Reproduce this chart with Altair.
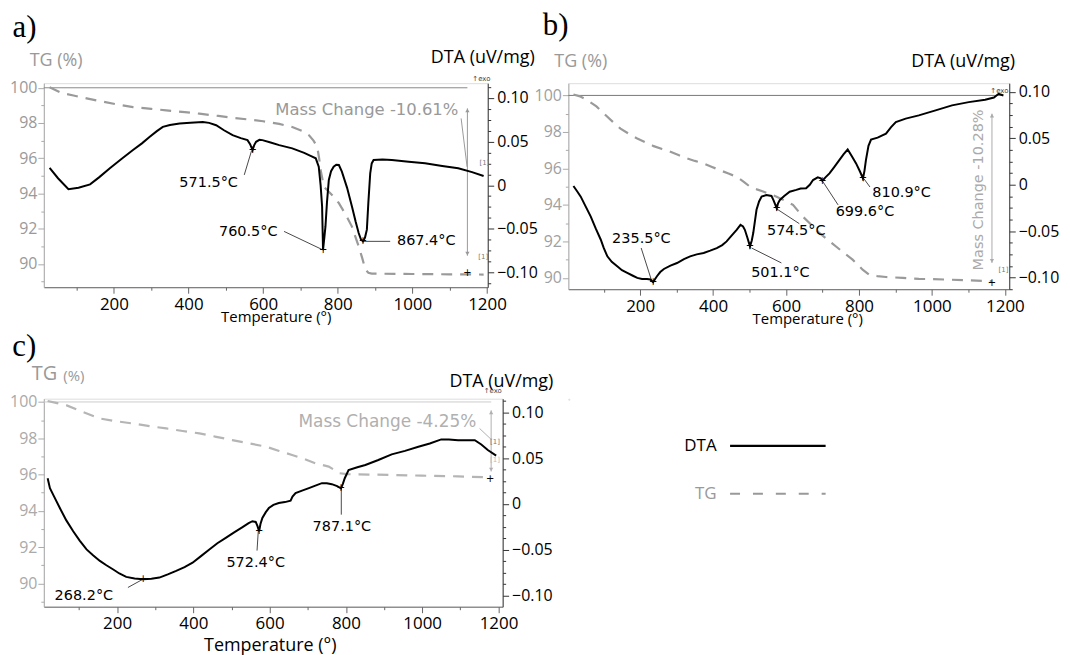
import altair as alt
import pandas as pd

# ---------------- Panel a ----------------
A_DTA_T = [27.5, 50, 78, 105, 136, 160, 189, 220, 251, 275, 296, 315, 331, 350, 376, 405, 438, 455, 474, 495, 518, 540, 558, 565, 571.5, 576, 581, 590, 598, 620, 643, 678, 710, 730, 741, 749, 754, 758, 760.5, 764, 767, 771, 776, 782, 789, 796, 803, 811, 825, 838, 848, 856, 862, 867.4, 873, 878, 882, 887, 891, 896, 920, 945, 990, 1034, 1080, 1123, 1160, 1191]
A_DTA_V = [0.020, 0.008, -0.0046, -0.003, 0.001, 0.009, 0.0194, 0.030, 0.0403, 0.048, 0.0555, 0.062, 0.0669, 0.069, 0.0708, 0.0715, 0.0726, 0.0715, 0.0688, 0.063, 0.0574, 0.054, 0.0517, 0.047, 0.0403, 0.046, 0.0498, 0.052, 0.0517, 0.049, 0.046, 0.0422, 0.037, 0.033, 0.0308, 0.0212, 0.0, -0.0244, -0.0738, -0.06, -0.0473, -0.02, 0.006, 0.016, 0.0212, 0.0235, 0.0232, 0.0155, -0.003, -0.0244, -0.042, -0.0548, -0.062, -0.0644, -0.06, -0.051, -0.02, 0.0137, 0.025, 0.0289, 0.0295, 0.0289, 0.027, 0.0251, 0.022, 0.0194, 0.015, 0.0106]
A_TG_T = [27.5, 60, 91.5, 130, 163, 210, 251, 300, 340, 390, 429, 480, 518, 560, 600, 643, 678, 705, 723, 735, 745, 750, 754, 763, 776, 790, 803, 820, 838, 856, 866, 874, 882, 891, 1000, 1100, 1191]
A_TG_V = [100.03, 99.7, 99.56, 99.38, 99.24, 99.05, 98.9, 98.8, 98.72, 98.62, 98.53, 98.4, 98.3, 98.2, 98.1, 97.95, 97.77, 97.55, 97.3, 97.0, 96.64, 96.0, 95.33, 94.38, 94.1, 93.8, 93.45, 92.85, 92.12, 91.0, 90.3, 89.68, 89.5, 89.45, 89.43, 89.41, 89.4]
A_PEAK_LABELS = ["571.5°C", "760.5°C", "867.4°C"]
A_PEAK_T = [453.8, 560, 1037.3]
A_PEAK_V = [0.0023, -0.0541, -0.0644]
A_LEAD_T1 = [549.3, 656, 866.7]
A_LEAD_V1 = [0.0118, -0.053, -0.0644]
A_LEAD_T2 = [568.8, 762.7, 940.5]
A_LEAD_V2 = [0.0395, -0.0747, -0.0644]
A_DIP_T = [571.5, 760.5, 867.4]
A_DIP_V = [0.0403, -0.0738, -0.0644]
A_MASS_TEXT = "Mass Change -10.61%"
A_MASS_T, A_MASS_V = 878, 98.72
A_ARROW_T, A_ARROW_V1, A_ARROW_V2 = 1147.5, 98.83, 90.47
A_MLEAD = [1130.7, 98.26, 1146.7, 95.51]
A_REF_T1, A_REF_T2 = 12, 1147.5

# ---------------- Panel b ----------------
B_DTA_T = [17, 27, 37, 50, 64.5, 78, 92, 100, 110, 122, 137, 150, 164.5, 180, 192, 205, 219, 228, 235.5, 240, 246, 255, 265, 283, 301, 320, 337, 355, 374, 392, 410, 425, 437, 450, 464.5, 475, 482, 487, 494, 501.1, 506, 510, 515, 519, 526, 533, 546, 560, 566, 574.5, 578, 583, 595, 610, 628, 640, 655, 665, 674, 687, 695, 699.6, 708, 719, 732, 746, 758, 769, 780, 792, 803, 810.9, 815, 819, 826, 833, 851, 874, 888, 901, 928, 964, 1010, 1055, 1101, 1146, 1170, 1183, 1196]
B_DTA_V = [-0.0013, -0.007, -0.0128, -0.023, -0.0343, -0.047, -0.0592, -0.068, -0.0771, -0.083, -0.0878, -0.092, -0.0949, -0.098, -0.1003, -0.1014, -0.1014, -0.102, -0.105, -0.102, -0.0985, -0.094, -0.0907, -0.087, -0.0843, -0.08, -0.0771, -0.075, -0.0735, -0.071, -0.0682, -0.065, -0.061, -0.055, -0.0485, -0.0431, -0.045, -0.0485, -0.057, -0.0664, -0.06, -0.052, -0.038, -0.027, -0.018, -0.0128, -0.011, -0.012, -0.017, -0.0253, -0.02, -0.0164, -0.012, -0.0075, -0.0055, -0.004, -0.0038, 0.0, 0.0051, 0.008, 0.007, 0.0043, 0.008, 0.0123, 0.019, 0.0265, 0.033, 0.038, 0.031, 0.023, 0.014, 0.0069, 0.015, 0.0265, 0.042, 0.0487, 0.0508, 0.0551, 0.062, 0.0676, 0.0712, 0.0747, 0.0801, 0.0855, 0.089, 0.0916, 0.094, 0.098, 0.0962]
B_TG_T = [17, 35, 55.5, 80, 101, 125, 146, 170, 192, 215, 237, 260, 283, 305, 328, 350, 374, 397, 419, 442, 464.5, 485, 501, 520, 537, 555, 574, 600, 619, 646, 670, 692, 715, 737, 760, 782.5, 800, 810, 828, 850, 874, 920, 964, 1055, 1165]
B_TG_V = [100.05, 99.95, 99.73, 99.4, 99.0, 98.55, 98.18, 97.88, 97.64, 97.42, 97.22, 97.06, 96.91, 96.73, 96.55, 96.41, 96.27, 96.08, 95.9, 95.72, 95.54, 95.25, 95.0, 94.85, 94.73, 94.6, 94.45, 94.2, 94.0, 93.36, 92.9, 92.45, 92.08, 91.72, 91.35, 91.0, 90.65, 90.45, 90.18, 90.1, 90.05, 90.0, 89.95, 89.9, 89.82]
B_PEAK_LABELS = ["235.5°C", "501.1°C", "574.5°C", "699.6°C", "810.9°C"]
B_PEAK_T = [203.3, 584.5, 628, 816.3, 916.7]
B_PEAK_V = [-0.0582, -0.0949, -0.0496, -0.0289, -0.0092]
B_LEAD_T1 = [202.7, 505.4, 573.6, 701, 812.7]
B_LEAD_V1 = [-0.0681, -0.0681, -0.0258, 0.0033, 0.0069]
B_LEAD_T2 = [232.7, 587.2, 636.3, 742.7, 830]
B_LEAD_V2 = [-0.105, -0.0842, -0.0419, -0.0217, -0.0024]
B_DIP_T = [235.5, 501.1, 574.5, 699.6, 810.9]
B_DIP_V = [-0.105, -0.0664, -0.0253, 0.0043, 0.0069]
B_MASS_TEXT = "Mass Change -10.28%"
B_MASS_T, B_MASS_V = 1128, 94.82
B_ARROW_T, B_ARROW_V1, B_ARROW_V2 = 1164.6, 99.0, 90.82
B_REF_T1, B_REF_T2 = 3, 1192

# ---------------- Panel c ----------------
C_DTA_T = [18, 24, 35, 50, 67, 85, 102, 120, 137, 155, 172, 189, 206, 224, 246, 268.2, 290, 311, 333, 355, 377, 398, 420, 442, 463, 485, 507, 529, 545, 555, 563.5, 568, 572.4, 576, 581, 590, 598, 610, 624, 640, 655, 660, 668, 685, 703, 720, 737, 750, 763, 777, 787.1, 792, 797, 807, 830, 851, 885, 920, 955, 990, 1020, 1050, 1070, 1094, 1115, 1138, 1155, 1172, 1194]
C_DTA_V = [0.0281, 0.0173, 0.008, -0.0045, -0.018, -0.0298, -0.040, -0.0497, -0.056, -0.0623, -0.067, -0.0714, -0.076, -0.0797, -0.0815, -0.0823, -0.0818, -0.0805, -0.077, -0.0732, -0.069, -0.0642, -0.057, -0.0497, -0.043, -0.037, -0.031, -0.0254, -0.021, -0.0189, -0.0197, -0.024, -0.0298, -0.022, -0.0153, -0.009, -0.0045, -0.001, 0.001, 0.002, 0.0035, 0.008, 0.0118, 0.0145, 0.0173, 0.020, 0.0227, 0.0225, 0.0216, 0.0195, 0.017, 0.022, 0.0281, 0.0371, 0.040, 0.0426, 0.048, 0.0542, 0.058, 0.0625, 0.066, 0.0705, 0.0705, 0.0697, 0.0695, 0.0697, 0.065, 0.0589, 0.0528]
C_TG_T = [18, 40, 68, 110, 155, 200, 242, 285, 329, 372, 416, 460, 502, 546, 590, 625, 659, 690, 720, 755, 770, 781, 803, 860, 920, 1000, 1094, 1181]
C_TG_V = [100.05, 99.95, 99.81, 99.45, 99.09, 98.93, 98.81, 98.67, 98.54, 98.4, 98.27, 98.08, 97.9, 97.72, 97.54, 97.3, 97.08, 96.86, 96.62, 96.44, 96.25, 96.08, 96.02, 96.0, 95.98, 95.94, 95.9, 95.84]
C_PEAK_LABELS = ["268.2°C", "572.4°C", "787.1°C"]
C_PEAK_T = [113, 563.5, 789.5]
C_PEAK_V = [-0.1003, -0.0642, -0.0254]
C_LEAD_T1 = [228.5, 570.3, 787.9]
C_LEAD_V1 = [-0.0913, -0.0294, 0.0173]
C_LEAD_T2 = [267.7, 567, 787.9]
C_LEAD_V2 = [-0.0823, -0.051, -0.0117]
C_DIP_T = [268.2, 572.4, 787.1]
C_DIP_V = [-0.0823, -0.0298, 0.017]
C_MASS_TEXT = "Mass Change -4.25%"
C_MASS_T, C_MASS_V = 908.7, 98.905
C_ARROW_T, C_ARROW_V1, C_ARROW_V2 = 1180.8, 99.54, 96.17
C_MLEAD = [1150.5, 98.54, 1180.8, 97.94]
C_REF_T1, C_REF_T2 = 8, 1181

LEGEND_SERIES = ["DTA", "TG"]

SANS = "Open Sans"
VERD = "DejaVu Sans"
SERIF = "Liberation Serif"


def df(**cols):
    return pd.DataFrame(cols)


def make_panel(P):
    xdom, tgdom, dtadom = P["xdom"], P["tgdom"], P["dtadom"]
    xvals = [v for v in range(100, 1201, 100) if xdom[0] <= v <= xdom[1]]
    xaxis = alt.Axis(values=xvals, format="d", title="Temperature (°)", titleFont=SANS,
                     titleFontSize=P["xtitle_size"], titleFontWeight="normal", titleColor="#000",
                     titlePadding=P["xtitle_pad"], titleX=P["xtitle_x"],
                     labelExpr="datum.value % 200 == 0 ? datum.label : ''", labelFont=SANS,
                     labelFontSize=17, labelColor="#000", labelPadding=3, labelOverlap=False,
                     labelFlush=False,
                     tickSize={"condition": {"test": "datum.value % 200 == 0", "value": 6}, "value": 3},
                     tickColor="#666", domainColor="#666", grid=False)
    tgvals = [v for v in range(85, 101) if tgdom[0] <= v <= tgdom[1]]
    tgaxis = alt.Axis(orient="left", values=tgvals, title=None, labelFont=SANS, labelFontSize=16,
                      labelColor=P["tg_label_color"], labelPadding=1, labelOverlap=False, labelFlush=False,
                      labelExpr="datum.value % 2 == 0 ? datum.label : ''",
                      tickSize={"condition": {"test": "datum.value % 2 == 0", "value": 6}, "value": 3},
                      tickColor="#aaa", domainColor="#aaa", grid=False)
    dvals = [round(k * 0.0125, 4) for k in range(-10, 11) if dtadom[0] <= k * 0.0125 <= dtadom[1]]
    major = "abs(datum.value*20 - round(datum.value*20)) < 0.001"
    dtaaxis = alt.Axis(orient="right", values=dvals, title=None, labelFont=SANS, labelFontSize=16,
                       labelColor="#000", labelPadding=3, labelOverlap=False, labelFlush=False,
                       labelExpr=f"{major} ? (abs(datum.value) < 0.0001 ? '0' : format(datum.value, '.2f')) : ''",
                       tickSize={"condition": {"test": major, "value": 6}, "value": 3},
                       tickColor="#333", domainColor="#333", grid=False)

    def X(f="T"):
        return alt.X(f"{f}:Q", scale=alt.Scale(domain=xdom, nice=False, zero=False), axis=xaxis)

    def YT(f="V"):
        return alt.Y(f"{f}:Q", scale=alt.Scale(domain=tgdom, nice=False, zero=False), axis=tgaxis)

    def YD(f="V"):
        return alt.Y(f"{f}:Q", scale=alt.Scale(domain=dtadom, nice=False, zero=False), axis=dtaaxis)

    # --- TG group ---
    tg_layers = []
    tg_layers.append(alt.Chart(df(T=[P["ref"][0]], T2=[P["ref"][1]], V=[100])).mark_rule(
        color=P["ref_color"], strokeWidth=1).encode(x=X(), x2="T2:Q", y=YT()))
    tg_layers.append(alt.Chart(df(T=P["tg_T"], V=P["tg_V"])).mark_line(
        color=P["tg_color"], strokeWidth=2.2, strokeDash=[11, 8]).encode(x=X(), y=YT()))
    at, a1, a2 = P["arrow"]
    tg_layers.append(alt.Chart(df(T=[at], V=[a1], V2=[a2])).mark_rule(
        color=P["mass_color"], strokeWidth=1).encode(x=X(), y=YT(), y2="V2:Q"))
    tg_layers.append(alt.Chart(df(T=[at], V=[a1])).mark_point(
        shape="triangle-up", filled=True, size=18, color=P["mass_color"], opacity=1,
        yOffset=2).encode(x=X(), y=YT()))
    tg_layers.append(alt.Chart(df(T=[at], V=[a2])).mark_point(
        shape="triangle-down", filled=True, size=18, color=P["mass_color"], opacity=1,
        yOffset=-2).encode(x=X(), y=YT()))
    if P.get("mlead"):
        t1, v1, t2, v2 = P["mlead"]
        tg_layers.append(alt.Chart(df(T=[t1], V=[v1], T2=[t2], V2=[v2])).mark_rule(
            color=P["mass_color"], strokeWidth=1).encode(x=X(), y=YT(), x2="T2:Q", y2="V2:Q"))
    mt, mv = P["mass_pos"]
    tg_layers.append(alt.Chart(df(T=[mt], V=[mv], L=[P["mass_text"]])).mark_text(
        font=VERD, fontSize=P["mass_size"], color=P["mass_color"], angle=P["mass_angle"],
        align="center", baseline="middle").encode(x=X(), y=YT(), text="L:N"))
    for (t, v, txt, font, size, color, align) in P["tg_texts"]:
        tg_layers.append(alt.Chart(df(T=[t], V=[v], L=[txt])).mark_text(
            font=font, fontSize=size, color=color, align=align, baseline="middle").encode(
            x=X(), y=YT(), text="L:N"))
    tg_group = alt.layer(*tg_layers)

    # --- DTA group ---
    d_layers = []
    d_layers.append(alt.Chart(df(T=P["lead_T1"], V=P["lead_V1"], T2=P["lead_T2"], V2=P["lead_V2"])).mark_rule(
        color="#333", strokeWidth=0.9).encode(x=X(), y=YD(), x2="T2:Q", y2="V2:Q"))
    d_layers.append(alt.Chart(df(T=P["dta_T"], V=P["dta_V"])).mark_line(
        color="#000", strokeWidth=2).encode(x=X(), y=YD()))
    d_layers.append(alt.Chart(df(T=P["dip_T"], V=P["dip_V"], L=["+"] * len(P["dip_T"]))).mark_text(
        font=VERD, fontSize=10, color="#000", baseline="middle").encode(x=X(), y=YD(), text="L:N"))
    d_layers.append(alt.Chart(df(T=P["peak_T"], V=P["peak_V"], L=P["peak_labels"])).mark_text(
        font=VERD, fontSize=14.5, color="#000", align="center", baseline="middle").encode(
        x=X(), y=YD(), text="L:N"))
    for (t, v, txt, font, size, color, align) in P["dta_texts"]:
        d_layers.append(alt.Chart(df(T=[t], V=[v], L=[txt])).mark_text(
            font=font, fontSize=size, color=color, align=align, baseline="middle").encode(
            x=X(), y=YD(), text="L:N"))
    dta_group = alt.layer(*d_layers)

    return alt.layer(tg_group, dta_group).resolve_scale(y="independent").properties(
        width=P["w"], height=P["h"])


PA = dict(xdom=[12, 1202], tgdom=[88.68, 100.26], dtadom=[-0.117, 0.117], w=446, h=205,
          xtitle_size=15, xtitle_pad=-3, xtitle_x=233, tg_label_color="#9a9a9a",
          ref=[A_REF_T1, A_REF_T2], ref_color="#888", tg_T=A_TG_T, tg_V=A_TG_V, tg_color="#9a9a9a",
          arrow=[A_ARROW_T, A_ARROW_V1, A_ARROW_V2], mass_color="#999", mlead=A_MLEAD,
          mass_pos=[A_MASS_T, A_MASS_V], mass_text=A_MASS_TEXT, mass_size=16.5, mass_angle=0,
          tg_texts=[(-72, 103.41, "a)", SERIF, 31, "#000", "left"),
                    (-25.9, 101.54, "TG (%)", SANS, 18, "#999", "left"),
                    (1147.5, 89.49, "+", VERD, 10, "#000", "center"),
                    (1190, 90.4, "[1]", VERD, 7, "#777", "center")],
          lead_T1=A_LEAD_T1, lead_V1=A_LEAD_V1, lead_T2=A_LEAD_T2, lead_V2=A_LEAD_V2,
          dta_T=A_DTA_T, dta_V=A_DTA_V, dip_T=A_DIP_T, dip_V=A_DIP_V,
          peak_T=A_PEAK_T, peak_V=A_PEAK_V, peak_labels=A_PEAK_LABELS,
          dta_texts=[(1328, 0.1453, "DTA (uV/mg)", SANS, 18, "#000", "right"),
                     (1185, 0.122, "↑exo", VERD, 7, "#444", "center"),
                     (1193, 0.0251, "[1]", VERD, 7, "#777", "center")])

PB = dict(xdom=[3, 1212], tgdom=[89.38, 100.67], dtadom=[-0.1125, 0.1094], w=443, h=207,
          xtitle_size=15, xtitle_pad=-3, xtitle_x=240, tg_label_color="#a0a0a0",
          ref=[B_REF_T1, B_REF_T2], ref_color="#777", tg_T=B_TG_T, tg_V=B_TG_V, tg_color="#9a9a9a",
          arrow=[B_ARROW_T, B_ARROW_V1, B_ARROW_V2], mass_color="#aaa", mlead=None,
          mass_pos=[B_MASS_T, B_MASS_V], mass_text=B_MASS_TEXT, mass_size=14.5, mass_angle=270,
          tg_texts=[(-67.2, 103.78, "b)", SERIF, 31, "#000", "left"),
                    (-35.4, 101.82, "TG (%)", SANS, 18, "#999", "left"),
                    (1164.6, 89.73, "+", VERD, 10, "#000", "center"),
                    (1196, 90.45, "[1]", VERD, 7, "#777", "center")],
          lead_T1=B_LEAD_T1, lead_V1=B_LEAD_V1, lead_T2=B_LEAD_T2, lead_V2=B_LEAD_V2,
          dta_T=B_DTA_T, dta_V=B_DTA_V, dip_T=B_DIP_T, dip_V=B_DIP_V,
          peak_T=B_PEAK_T, peak_V=B_PEAK_V, peak_labels=B_PEAK_LABELS,
          dta_texts=[(1228, 0.1319, "DTA (uV/mg)", SANS, 18, "#000", "right"),
                     (1185, 0.1015, "↑exo", VERD, 7, "#444", "center")])

PC = dict(xdom=[8, 1211], tgdom=[88.72, 100.18], dtadom=[-0.1123, 0.115], w=461, h=209,
          xtitle_size=18, xtitle_pad=5, xtitle_x=227, tg_label_color="#aaa",
          ref=[C_REF_T1, C_REF_T2], ref_color="#ccc", tg_T=C_TG_T, tg_V=C_TG_V, tg_color="#b5b5b5",
          arrow=[C_ARROW_T, C_ARROW_V1, C_ARROW_V2], mass_color="#b0b0b0", mlead=C_MLEAD,
          mass_pos=[C_MASS_T, C_MASS_V], mass_text=C_MASS_TEXT, mass_size=17, mass_angle=0,
          tg_texts=[(-74.9, 103.03, "c)", SERIF, 31, "#000", "left"),
                    (-23.5, 101.55, "TG", SANS, 20, "#999", "left"),
                    (59, 101.44, "(%)", SANS, 15, "#999", "left"),
                    (1178, 95.75, "+", VERD, 10, "#000", "center"),
                    (1191, 96.8, "[1]", VERD, 7, "#bbb", "center")],
          lead_T1=C_LEAD_T1, lead_V1=C_LEAD_V1, lead_T2=C_LEAD_T2, lead_V2=C_LEAD_V2,
          dta_T=C_DTA_T, dta_V=C_DTA_V, dip_T=C_DIP_T, dip_V=C_DIP_V,
          peak_T=C_PEAK_T, peak_V=C_PEAK_V, peak_labels=C_PEAK_LABELS,
          dta_texts=[(1344, 0.1334, "DTA (uV/mg)", SANS, 18, "#000", "right"),
                     (1185, 0.1229, "↑exo", VERD, 7, "#444", "center"),
                     (1191, 0.0681, "[1]", VERD, 7, "#777", "center")])

pa = make_panel(PA)
pb = make_panel(PB)
pc = make_panel(PC)

# legend: label left of a 96px line sample (custom path 1.6x the 60px symbol size)
legend_props = dict(orient="none", legendX=646, legendY=333, title=None, labelFont=SANS,
                    labelFontSize=17,
                    labelColor={"expr": "datum.label == 'TG' ? '#999999' : '#000000'"},
                    symbolType="M-1.6,0H1.6", symbolSize=3600, symbolStrokeWidth=2.2,
                    symbolFillColor="transparent",
                    labelAlign="right", labelOffset={"expr": "-93"}, symbolOffset=60,
                    rowPadding=8, padding=0)
legend_view = alt.Chart(pd.DataFrame({"series": LEGEND_SERIES})).mark_line(strokeWidth=2.2).encode(
    x=alt.value(0), y=alt.value(0),
    color=alt.Color("series:N", scale=alt.Scale(domain=LEGEND_SERIES, range=["#000000", "#999999"]),
                    legend=alt.Legend(**legend_props)),
    strokeDash=alt.StrokeDash("series:N", scale=alt.Scale(domain=LEGEND_SERIES, range=[[1, 0], [10, 13]]),
                              legend=alt.Legend(**legend_props)),
).properties(width=1, height=1)

chart = alt.concat(pa, pb, pc, legend_view, columns=2,
                   spacing={"row": 110, "column": 66}).properties(
    bounds="flush", padding={"left": 1, "top": 0, "right": 2, "bottom": 2}
).configure_view(stroke=None).configure(background="white")

chart.save("out.html", embed_options={"renderer": "svg", "actions": False})
